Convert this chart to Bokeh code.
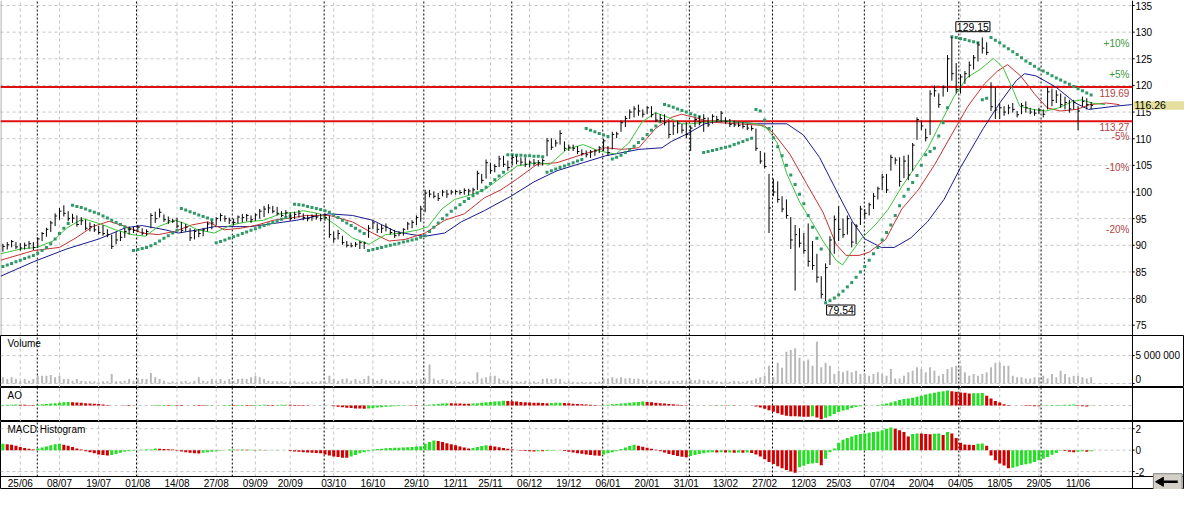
from bokeh.plotting import figure
from bokeh.layouts import column
from bokeh.models import Range1d, Label
from bokeh.embed import file_html
from bokeh.resources import INLINE
from bokeh.core.properties import value

# ---------------- data ----------------
high = [90.3, 90.6, 91.0, 90.6, 90.4, 90.5, 90.8, 90.6, 91.5, 92.5,
        93.3, 94.6, 96.0, 97.0, 97.5, 96.4, 95.9, 95.6, 95.3, 94.8,
        94.3, 94.0, 93.6, 93.8, 93.0, 92.0, 92.5, 92.6, 93.2, 93.5,
        93.5, 93.8, 93.2, 93.0, 96.0, 96.3, 96.9, 95.8, 95.4, 95.0,
        95.2, 94.4, 94.0, 93.2, 93.0, 93.0, 93.2, 94.4, 94.6, 95.3,
        96.0, 95.6, 95.2, 95.0, 95.6, 95.9, 95.9, 95.6, 96.0, 96.8,
        97.4, 97.7, 97.4, 97.2, 96.4, 96.6, 96.2, 96.3, 96.6, 96.0,
        95.7, 95.8, 96.0, 95.9, 96.0, 95.6, 92.6, 92.9, 91.8, 90.8,
        90.5, 90.6, 90.8, 90.7, 93.8, 94.7, 94.1, 93.8, 94.1, 93.2,
        92.9, 92.6, 93.2, 94.4, 94.7, 95.6, 97.4, 100.4, 100.4, 100.1,
        99.8, 100.4, 100.4, 100.4, 100.4, 100.4, 100.7, 100.6, 100.8, 104.0,
        103.4, 106.1, 105.5, 105.2, 106.8, 106.8, 105.9, 107.0, 106.8, 106.5,
        106.5, 105.9, 106.2, 106.0, 106.3, 110.1, 110.1, 109.8, 111.6, 109.5,
        108.9, 108.9, 108.6, 108.0, 107.8, 107.9, 108.0, 108.6, 110.0, 108.6,
        111.3, 111.3, 113.4, 114.3, 115.5, 116.1, 116.4, 115.5, 116.1, 116.1,
        114.9, 114.6, 114.6, 113.4, 113.1, 113.4, 112.8, 113.1, 112.5, 114.0,
        114.3, 114.6, 114.0, 114.6, 114.3, 115.2, 114.0, 113.7, 113.4, 113.1,
        113.1, 112.8, 112.5, 111.9, 107.7, 107.4, 103.4, 102.5, 102.0, 99.2,
        98.6, 95.3, 93.8, 93.2, 92.3, 94.1, 90.8, 88.4, 84.2, 86.6,
        91.7, 95.6, 97.4, 95.0, 95.6, 94.4, 94.0, 97.4, 96.8, 98.0,
        99.8, 101.0, 103.4, 103.4, 107.0, 106.5, 106.5, 106.8, 107.0, 109.2,
        114.0, 113.4, 111.9, 119.1, 120.0, 118.5, 120.0, 125.7, 129.15, 124.2,
        122.1, 122.7, 124.5, 125.7, 128.1, 129.0, 128.1, 120.6, 119.7, 116.7,
        116.1, 116.4, 116.7, 115.2, 116.7, 117.0, 115.8, 115.5, 115.8, 115.5,
        119.7, 119.4, 119.1, 118.5, 117.9, 117.3, 117.3, 116.1, 117.9, 117.6, 116.9]

low = [88.8, 89.2, 89.6, 89.3, 89.0, 89.2, 89.4, 89.1, 89.5, 90.8,
       91.6, 92.5, 93.6, 94.8, 95.4, 94.5, 94.2, 93.5, 93.8, 92.8,
       92.6, 92.5, 92.0, 91.8, 91.5, 89.3, 90.2, 90.8, 91.4, 92.0,
       92.3, 92.5, 91.9, 91.8, 93.2, 94.2, 95.2, 94.4, 94.0, 94.2,
       93.2, 92.3, 92.6, 90.8, 91.1, 91.5, 91.7, 92.6, 93.0, 93.8,
       94.5, 94.4, 94.0, 93.7, 94.1, 94.3, 94.5, 94.2, 94.6, 95.0,
       95.3, 96.0, 96.0, 95.6, 95.3, 95.4, 94.6, 94.9, 95.2, 94.7,
       94.5, 94.6, 94.8, 94.5, 94.6, 91.4, 90.5, 91.1, 90.1, 89.6,
       89.6, 89.7, 89.3, 89.3, 91.4, 93.0, 92.3, 92.3, 92.6, 92.0,
       91.4, 91.7, 91.8, 92.9, 93.2, 93.8, 94.4, 96.2, 99.0, 98.8,
       98.3, 99.2, 98.9, 99.5, 99.5, 99.5, 99.5, 99.4, 99.6, 100.4,
       101.6, 102.5, 103.4, 103.7, 104.7, 104.7, 104.0, 105.0, 105.2, 105.0,
       104.7, 104.6, 104.9, 104.8, 105.0, 106.7, 107.9, 108.5, 108.9, 107.7,
       107.7, 107.7, 107.1, 106.8, 106.5, 106.4, 106.8, 107.3, 107.7, 106.8,
       108.0, 110.1, 111.3, 112.2, 113.7, 114.0, 114.3, 114.0, 114.6, 114.0,
       113.1, 113.1, 112.5, 110.1, 110.7, 111.0, 111.0, 110.1, 107.7, 112.2,
       112.5, 111.3, 112.2, 112.8, 113.1, 113.1, 112.8, 112.2, 112.2, 112.2,
       111.9, 111.6, 111.5, 107.7, 105.3, 104.4, 92.3, 99.2, 98.0, 96.2,
       95.0, 89.3, 81.5, 89.6, 88.4, 86.0, 85.4, 83.0, 80.0, 79.54,
       86.3, 88.4, 90.8, 91.4, 92.0, 89.6, 90.2, 93.8, 95.0, 95.6,
       96.8, 98.6, 100.4, 99.8, 104.0, 105.2, 101.0, 102.6, 102.2, 104.0,
       109.8, 111.6, 109.5, 110.7, 117.9, 115.8, 117.9, 118.8, 120.9, 118.5,
       118.5, 120.3, 121.5, 123.0, 124.5, 126.0, 125.7, 115.2, 113.7, 113.7,
       114.3, 114.6, 114.9, 114.0, 114.6, 114.9, 114.6, 114.3, 114.6, 114.0,
       115.5, 116.1, 116.7, 115.8, 115.5, 114.9, 115.5, 111.6, 116.1, 115.5, 115.5]

close = [89.8, 90.1, 90.7, 89.7, 89.5, 90.0, 90.3, 89.6, 91.2, 92.2,
         93.0, 94.2, 95.5, 96.4, 96.0, 95.0, 95.1, 93.9, 94.6, 93.2,
         93.5, 92.9, 92.4, 92.2, 92.0, 89.8, 91.0, 91.5, 92.6, 93.0,
         92.8, 93.4, 92.3, 92.6, 95.6, 95.0, 96.2, 94.8, 94.6, 94.5,
         93.6, 92.8, 93.4, 91.4, 92.6, 92.2, 92.9, 94.0, 94.2, 95.0,
         95.6, 95.0, 94.7, 94.3, 95.3, 95.2, 95.6, 94.8, 95.7, 96.4,
         96.8, 97.0, 96.4, 96.0, 95.6, 96.1, 95.0, 95.8, 96.0, 95.2,
         95.0, 95.4, 95.3, 95.0, 95.2, 92.0, 91.2, 92.2, 90.5, 90.0,
         89.9, 90.2, 90.5, 90.4, 93.2, 94.2, 93.0, 93.2, 93.4, 92.4,
         91.8, 92.2, 93.0, 94.0, 94.3, 95.2, 96.8, 99.8, 99.6, 99.2,
         98.8, 100.0, 99.6, 100.0, 100.1, 99.9, 100.3, 100.2, 100.4, 103.5,
         102.2, 105.5, 104.0, 104.8, 106.2, 105.2, 104.6, 106.5, 105.8, 105.6,
         105.2, 105.6, 105.4, 105.5, 105.9, 109.6, 108.4, 109.2, 111.0, 108.2,
         108.4, 108.2, 107.6, 107.2, 107.0, 107.5, 107.7, 108.3, 109.6, 107.4,
         110.8, 110.9, 113.0, 113.8, 115.0, 115.6, 115.2, 114.6, 115.8, 114.5,
         113.5, 113.8, 113.0, 110.8, 112.4, 112.8, 111.6, 110.8, 112.0, 113.6,
         113.0, 113.8, 112.6, 114.2, 113.6, 114.8, 113.2, 112.7, 112.6, 112.5,
         112.3, 112.0, 111.9, 108.2, 105.8, 104.8, 97.0, 100.0, 98.6, 96.8,
         95.6, 91.0, 92.0, 90.4, 89.0, 87.0, 86.2, 84.0, 80.8, 85.8,
         91.0, 94.8, 93.0, 92.0, 95.0, 90.6, 93.6, 96.8, 96.0, 97.6,
         99.2, 100.6, 102.8, 100.4, 106.5, 106.0, 102.0, 105.8, 103.2, 108.8,
         113.6, 112.4, 110.2, 118.4, 119.0, 116.4, 119.6, 125.0, 122.2, 119.2,
         121.6, 122.2, 123.8, 125.2, 127.6, 127.0, 126.2, 116.0, 115.4, 115.8,
         115.0, 115.8, 115.5, 114.5, 116.2, 115.8, 115.0, 114.8, 115.4, 114.6,
         118.8, 117.2, 118.2, 116.4, 116.8, 115.6, 116.8, 115.2, 117.0, 116.4, 116.26]

sar = [86.0, 86.3, 86.6, 86.9, 87.2, 87.5, 87.8, 88.1, 88.5, 89.0,
       89.6, 90.3, 91.2, 92.2, 93.2, 94.1, 97.5, 97.3, 97.1, 96.8,
       96.5, 96.2, 95.9, 95.5, 95.1, 94.7, 94.3, 93.9, 93.5, 93.1,
       89.0, 89.2, 89.4, 89.6, 89.9, 90.3, 90.8, 91.3, 91.8, 92.3,
       92.8, 96.9, 96.6, 96.3, 96.0, 95.7, 95.4, 95.1, 94.8, 90.5,
       90.7, 91.0, 91.3, 91.6, 91.9, 92.2, 92.5, 92.8, 93.1, 93.4,
       93.7, 94.0, 94.3, 94.6, 94.9, 95.2, 95.5, 97.7, 97.6, 97.5,
       97.3, 97.1, 96.9, 96.7, 96.5, 96.2, 95.7, 95.2, 94.7, 94.2,
       93.7, 93.2, 92.7, 92.2, 89.0, 89.2, 89.4, 89.6, 89.8, 90.0,
       90.2, 90.4, 90.6, 90.8, 91.0, 91.2, 91.5, 91.8, 92.6, 93.4,
       94.2, 95.0, 95.7, 96.4, 97.0, 97.6, 98.2, 98.8, 99.3, 99.8,
       100.3, 100.9, 101.6, 102.3, 103.0, 103.7, 107.0, 107.0, 106.9, 106.9,
       106.8, 106.8, 106.7, 106.7, 106.6, 103.7, 104.0, 104.3, 104.6, 104.9,
       105.2, 105.5, 105.8, 106.1, 111.9, 111.6, 111.3, 111.0, 110.7, 110.4,
       106.2, 106.5, 106.9, 107.4, 108.0, 108.6, 109.3, 110.0, 110.8, 111.6,
       112.4, 113.2, 116.4, 116.2, 115.9, 115.6, 115.3, 115.0, 114.7, 114.4,
       114.1, 107.4, 107.6, 107.8, 108.0, 108.2, 108.4, 108.6, 108.9, 109.2,
       109.5, 109.8, 110.1, 115.5, 115.2, 113.5, 111.9, 110.2, 108.5, 106.8,
       105.0, 103.2, 101.4, 99.6, 97.8, 95.6, 93.4, 91.3, 89.3, 79.2,
       79.6, 80.1, 80.7, 81.4, 82.2, 83.0, 84.0, 85.0, 86.0, 87.2,
       88.4, 89.6, 91.0, 92.4, 93.8, 95.6, 97.4, 99.2, 100.5, 101.8,
       103.1, 105.0, 107.0, 107.6, 108.2, 110.5, 113.0, 115.8, 129.15, 129.0,
       128.8, 128.6, 128.4, 128.2, 128.0, 117.3, 117.6, 129.0, 128.5, 128.0,
       127.4, 126.9, 126.3, 125.8, 125.2, 124.6, 124.1, 123.6, 123.1, 122.7,
       122.3, 121.8, 121.4, 121.0, 120.6, 120.2, 119.8, 119.4, 119.0, 118.6, 118.2]

volume_m = [1.1, 0.8, 1.1, 0.8, 0.5, 0.8, 0.5, 0.8, 1.4, 1.4,
            1.4, 1.5, 1.1, 1.4, 0.8, 0.8, 0.5, 0.8, 0.5, 0.4,
            0.4, 0.4, 0.2, 0.4, 0.4, 1.7, 0.4, 0.4, 0.5, 0.8,
            0.5, 0.9, 0.8, 0.8, 1.9, 1.1, 0.8, 0.5, 0.2, 0.4,
            0.2, 0.4, 0.5, 0.2, 0.5, 1.1, 0.5, 0.4, 0.8, 0.5,
            0.8, 0.5, 0.8, 0.5, 0.8, 0.9, 0.8, 1.1, 1.4, 1.1,
            0.8, 0.5, 0.4, 0.4, 0.4, 0.2, 0.4, 0.5, 0.2, 0.2,
            0.3, 0.4, 0.3, 0.5, 0.4, 1.4, 0.8, 0.5, 0.8, 0.9,
            0.5, 0.8, 0.5, 0.8, 1.4, 0.8, 0.5, 0.8, 0.6, 0.5,
            0.6, 0.5, 0.3, 0.5, 0.6, 0.5, 0.8, 0.9, 3.4, 0.9,
            0.6, 0.8, 0.6, 0.5, 0.4, 0.3, 0.4, 0.3, 0.5, 2.0,
            0.9, 1.1, 1.4, 1.4, 0.9, 0.6, 0.5, 0.3, 0.4, 0.3,
            0.5, 0.3, 0.4, 0.3, 0.8, 0.9, 0.8, 0.9, 0.8, 0.3,
            0.4, 0.3, 0.2, 0.3, 0.2, 0.3, 0.2, 0.3, 0.8, 0.9,
            1.1, 0.9, 1.1, 0.9, 1.0, 0.8, 0.9, 0.7, 0.6, 0.5,
            0.6, 0.5, 0.4, 0.5, 0.4, 0.5, 0.6, 0.5, 0.7, 0.6,
            0.7, 0.6, 0.5, 0.6, 0.4, 0.3, 0.4, 0.3, 0.5, 0.4,
            0.3, 0.5, 0.6, 0.9, 1.1, 1.4, 3.2, 1.1, 3.7, 2.8,
            5.7, 6.0, 6.3, 4.6, 4.0, 4.3, 3.2, 7.5, 2.9, 3.7,
            3.2, 1.7, 2.3, 2.0, 2.3, 2.0, 2.3, 1.7, 1.7, 1.4,
            1.7, 2.0, 1.7, 1.4, 2.6, 0.9, 0.9, 1.4, 2.0, 2.3,
            2.9, 2.6, 2.0, 2.9, 2.3, 1.4, 1.7, 2.6, 2.9, 3.2,
            3.2, 2.0, 1.4, 1.7, 1.4, 1.7, 2.0, 2.9, 3.7, 3.7,
            3.2, 3.2, 1.4, 1.1, 1.1, 0.9, 0.9, 1.1, 1.1, 1.4,
            0.9, 1.7, 1.1, 2.3, 1.7, 1.1, 1.4, 1.4, 1.1, 0.9, 1.1]

ao = [0.6, 0.7, 0.8, 0.9, 0.8, 0.7, 0.6, 0.5, 0.8, 1.2,
      1.6, 2.0, 2.4, 2.8, 3.2, 3.5, 3.3, 3.0, 2.7, 2.4,
      2.1, 1.8, 1.4, 1.0, 0.6, 0, 0, 0, -0.4, -0.5,
      -0.4, 0, 0, 0, 0, 0.4, 0.5, 0.6, 0.5, 0.6,
      0.5, 0.4, 0, 0, -0.4, -0.5, -0.6, -0.5, -0.4, 0,
      0, 0.4, 0.5, 0.4, 0.5, 0.6, 0.5, 0.4, 0.5, 0.6,
      0.7, 0.6, 0.5, 0.6, 0.7, 0.8, 0.7, 0.6, 0.5, 0.4,
      0.3, 0, 0, 0, 0, 0, -0.8, -1.3, -1.8, -2.3,
      -2.7, -3.0, -3.2, -3.4, -3.0, -2.6, -2.2, -1.8, -1.4, -1.0,
      -0.7, -0.5, -0.4, -0.3, -0.4, -0.5, 0, 0.4, 0.8, 1.2,
      1.6, 2.0, 2.3, 2.2, 2.1, 2.0, 1.9, 1.8, 2.0, 2.4,
      2.8, 3.2, 3.6, 4.0, 4.4, 4.8, 4.6, 4.3, 4.0, 3.7,
      3.4, 3.1, 2.9, 2.7, 2.5, 2.3, 2.5, 2.7, 2.8, 2.5,
      2.2, 1.9, 1.6, 1.3, 1.0, 0.7, 0.4, 0.2, 0.4, 0.8,
      1.2, 1.6, 2.0, 2.4, 2.8, 3.2, 3.6, 4.0, 3.6, 3.2,
      2.8, 2.4, 2.0, 1.6, 1.2, 0.8, 0.5, 0.3, 0, 0,
      0, 0, 0, 0.3, -0.3, 0.3, -0.3, 0.3, -0.3, 0,
      0, 0, 0, -1.0, -2.0, -3.5, -5.0, -6.5, -8.0, -9.5,
      -10.5, -11.0, -11.2, -11.4, -11.5, -11.6, -11.0, -12.5, -14.3, -12.7,
      -11.0, -8.7, -6.7, -5.3, -4.3, -2.7, -1.7, -0.7, -0.3, 0,
      0, 0.6, 1.3, 2.0, 3.0, 4.3, 5.7, 6.7, 7.3, 8.0,
      9.0, 10.0, 11.3, 12.3, 13.0, 14.0, 14.6, 15.3, 14.7, 14.0,
      13.3, 13.0, 12.3, 12.5, 12.6, 12.8, 10.0, 7.3, 4.7, 3.0,
      1.3, 0.4, 0, 0, 0, -0.5, -0.6, -0.7, -0.8, 0.2,
      0.3, 0.4, 0.5, 0.6, 0.7, 0.8, 0.9, -0.6, -0.8, -1.0, 0.3]

macd = [0.6, 0.55, 0.5, 0.4, 0.3, 0.2, 0.12, 0.06, 0.15, 0.25,
        0.35, 0.45, 0.55, 0.6, 0.5, 0.4, 0.3, 0.15, 0.05, -0.1,
        -0.2, -0.3, -0.4, -0.45, -0.5, -0.45, -0.35, -0.25, -0.15, -0.1,
        -0.05, 0.0, 0.03, 0.05, 0.07, 0.15, 0.13, 0.11, 0.08, 0.05,
        -0.05, -0.12, -0.2, -0.25, -0.3, -0.32, -0.25, -0.2, -0.15, -0.1,
        -0.05, 0.0, 0.05, 0.06, 0.04, 0.05, 0.03, 0.04, 0.02, 0.03,
        0.01, 0.02, 0.0, 0.01, -0.01, 0.0, -0.08, -0.12, -0.15, -0.2,
        -0.22, -0.25, -0.27, -0.3, -0.4, -0.5, -0.6, -0.65, -0.7, -0.72,
        -0.6, -0.45, -0.3, -0.2, -0.1, 0.05, 0.1, 0.14, 0.18, 0.2,
        0.22, 0.23, 0.25, 0.27, 0.3, 0.33, 0.36, 0.6, 0.75, 0.9,
        0.85, 0.75, 0.65, 0.55, 0.45, 0.35, 0.25, 0.15, 0.2, 0.3,
        0.38, 0.45, 0.42, 0.35, 0.28, 0.2, 0.12, 0.05, 0.0, -0.05,
        -0.08, -0.1, -0.12, -0.1, -0.11, -0.08, -0.05, -0.03, -0.02, -0.08,
        -0.15, -0.22, -0.28, -0.33, -0.4, -0.45, -0.5, -0.52, -0.4, -0.3,
        -0.2, -0.1, 0.1, 0.25, 0.38, 0.5, 0.42, 0.32, 0.22, 0.12,
        0.03, -0.1, -0.22, -0.35, -0.45, -0.55, -0.62, -0.67, -0.55, -0.45,
        -0.35, -0.28, -0.22, -0.2, -0.22, -0.2, -0.23, -0.21, -0.24, -0.22,
        -0.25, -0.23, -0.26, -0.4, -0.6, -0.85, -1.1, -1.3, -1.5, -1.7,
        -1.85, -2.0, -2.1, -1.6, -1.45, -1.3, -1.25, -1.2, -1.4, -0.8,
        -0.2, 0.15, 0.68, 0.97, 1.12, 1.26, 1.41, 1.5, 1.56, 1.62,
        1.68, 1.74, 1.85, 2.0, 2.1, 2.0, 1.85, 1.7, 1.26, 1.5,
        1.56, 1.55, 1.5, 1.47, 1.52, 1.56, 1.41, 1.7, 1.56, 1.12,
        0.68, 0.53, 0.5, 0.48, 0.6, 0.62, 0.4, -0.5, -0.94, -1.24,
        -1.44, -1.68, -1.65, -1.53, -1.38, -1.32, -1.24, -1.1, -0.94, -0.8,
        -0.65, -0.44, -0.26, -0.05, -0.08, -0.15, -0.2, -0.15, -0.1, -0.15, -0.1]

# Alligator lines (bar index, price)
blue_x = [-0.5, 7.0, 14.6, 22.1, 28.2, 32.0, 37.3, 40.3, 44.8, 48.6, 56.9, 62.2, 67.5, 72.8, 75.0,
          80.3, 84.9, 90.2, 94.0, 97.0, 101.5, 105.3, 110.6, 116.7, 122.0, 127.3, 133.3, 138.5,
          146.1, 151.4, 153.6, 157.4, 161.2, 165.0, 168.7, 173.3, 180.1, 183.9, 187.6, 191.4,
          195.2, 198.0, 201.8, 204.8, 208.6, 212.4, 216.2, 220.0, 225.2, 229.0, 232.8, 234.7,
          237.3, 241.9, 246.4, 249.4, 252.5, 255.5, 259.3]
blue_y = [84.2, 86.9, 89.3, 91.2, 93.3, 93.7, 92.9, 92.3, 92.9, 93.5, 93.5, 94.1, 94.7, 95.6, 95.9,
          95.6, 94.7, 92.6, 92.0, 91.7, 92.3, 94.4, 96.5, 99.2, 101.9, 104.0, 105.5, 106.8,
          108.0, 108.3, 109.5, 111.0, 112.8, 113.4, 113.1, 112.8, 112.8, 110.7, 106.5, 100.4,
          94.4, 91.2, 89.6, 89.6, 91.4, 94.4, 98.6, 104.6, 111.9, 116.7, 120.9, 122.2,
          121.8, 119.7, 116.7, 115.5, 115.8, 116.1, 116.4]
red_x = [-0.5, 7.0, 13.0, 16.8, 20.6, 24.4, 28.2, 32.0, 35.7, 39.5, 43.3, 47.1, 50.9, 54.6, 58.4,
         62.2, 67.5, 69.7, 75.0, 80.3, 84.9, 88.7, 92.4, 97.0, 101.5, 106.0, 110.6, 114.4, 118.2,
         122.7, 127.3, 133.3, 138.5, 142.3, 146.1, 149.9, 153.6, 155.9, 158.9, 162.7, 168.7,
         174.8, 177.1, 180.8, 184.6, 188.4, 191.4, 193.7, 196.7, 199.0, 202.8, 206.5, 210.3,
         214.1, 217.9, 221.7, 225.5, 228.5, 230.8, 233.8, 236.9, 239.9, 242.9, 246.7, 249.7,
         253.5, 256.5]
red_y = [87.2, 89.0, 89.6, 91.4, 93.5, 94.5, 93.5, 92.3, 92.0, 92.6, 93.8, 94.4, 92.9, 93.2, 93.8,
         94.7, 95.3, 95.6, 95.6, 94.4, 92.3, 90.8, 91.1, 92.3, 94.7, 95.9, 98.9, 100.4, 102.5,
         105.2, 105.5, 107.1, 108.3, 108.0, 108.3, 111.9, 114.0, 114.6, 114.0, 113.1, 112.8,
         112.5, 111.0, 107.1, 101.6, 96.2, 90.2, 88.1, 88.1, 88.7, 91.1, 96.8, 100.4,
         105.2, 110.7, 116.1, 120.3, 122.7, 123.9, 121.8, 118.5, 115.8, 115.2, 115.5, 116.4,
         116.7, 116.4]
green_x = [-0.5, 4.0, 7.8, 11.5, 14.6, 18.4, 22.1, 25.9, 29.7, 32.7, 35.7, 39.5, 41.8, 44.8, 48.6,
           52.4, 56.1, 59.9, 63.7, 67.5, 69.0, 72.8, 76.5, 80.3, 84.1, 87.9, 91.7, 95.5, 97.7,
           100.8, 103.8, 107.6, 110.6, 113.6, 118.2, 122.7, 125.7, 129.5, 133.3, 137.0, 140.8,
           143.8, 146.8, 149.9, 152.9, 155.9, 158.2, 161.2, 165.0, 168.7, 173.3, 175.6, 177.9,
           180.1, 183.1, 185.4, 188.4, 191.4, 192.9, 194.4, 197.4, 200.4, 203.4, 206.5, 209.5,
           212.5, 215.5, 218.5, 221.5, 224.5, 227.6, 229.8, 232.1, 233.6, 236.6, 239.6, 242.6,
           245.7, 247.9, 250.2, 253.2]
green_y = [88.4, 89.3, 89.6, 90.8, 93.2, 95.0, 94.1, 92.9, 92.0, 91.7, 93.5, 94.7, 94.1, 92.9, 92.3,
           93.8, 94.4, 94.7, 95.9, 96.2, 96.5, 95.9, 93.8, 91.4, 90.2, 92.0, 92.3, 92.9, 93.5,
           96.8, 98.6, 99.5, 100.4, 102.2, 104.9, 105.5, 105.2, 108.0, 108.9, 107.7, 107.1,
           109.2, 113.1, 114.9, 114.0, 112.8, 112.8, 113.1, 113.4, 113.1, 112.8, 111.9, 109.2,
           103.4, 98.0, 95.0, 90.8, 87.2, 86.3, 88.1, 91.4, 93.8, 96.8, 101.0, 104.6,
           108.2, 113.1, 117.9, 121.5, 123.0, 125.1, 123.3, 119.1, 116.1, 115.5, 115.2, 115.8,
           117.0, 117.3, 116.7, 116.4]

date_idx = [4, 13, 22, 31, 40, 49, 58, 66, 76, 85, 95, 104, 112, 121, 130, 139, 148, 157,
            166, 175, 184, 192, 202, 211, 220, 229, 238, 247]
date_lbl = ["25/06", "08/07", "19/07", "01/08", "14/08", "27/08", "09/09", "20/09", "03/10",
            "16/10", "29/10", "12/11", "25/11", "06/12", "19/12", "06/01", "20/01", "31/01",
            "13/02", "27/02", "12/03", "25/03", "07/04", "20/04", "04/05", "18/05", "29/05", "11/06"]
month_idx = [7.9, 30.7, 52.7, 73.8, 96.7, 116.9, 137.8, 157.7, 176.8, 197.9, 219.6, 238.5]

price_ticks = list(range(75, 136, 5))
vol_ticks = [0, 5]
vol_tick_lbl = ["0", "5 000 000"]
macd_ticks = [-2, 0, 2]

resistance = 119.69
support = 113.27
last_close = 116.26
peak_val, peak_idx = 129.15, 218
trough_val, trough_idx = 79.54, 189
pct_levels = [127.89, 122.07, 110.45, 104.63, 93.01]
pct_text = ["+10%", "+5%", "-5%", "-10%", "-20%"]

# ---------------- styling / layout ----------------
FONT = "Liberation Sans"
FW = 1184                 # frame covers whole width; price scale drawn by hand
X0, XAX, X1 = -0.55, 259.5, 271.45   # left edge, scale line, right edge (bar-index units)
GRID = "#c4c4c4"
UP, DOWN = "#22e022", "#d00000"
idx = list(range(len(close)))
xr = Range1d(X0, X1)


def panel(fh, y0, y1, ya, yb, outline="black"):
    """ya..yb is the plotting band inside the frame (y0..y1)."""
    p = figure(frame_width=FW, frame_height=fh, x_range=xr, y_range=Range1d(y0, y1),
               output_backend="svg", toolbar_location=None,
               x_axis_location=None, y_axis_location=None,
               min_border_left=0, min_border_right=0, min_border_top=0, min_border_bottom=0)
    p.outline_line_color = outline
    p.outline_line_width = 1
    p.background_fill_color = "white"
    p.border_fill_color = "white"
    p.grid.visible = False
    # vertical grid at date labels
    p.segment(x0=date_idx, x1=date_idx, y0=ya, y1=yb, line_color=GRID, line_dash="3 3")
    # month separators
    p.segment(x0=month_idx, x1=month_idx, y0=ya, y1=yb, line_color="black", line_dash="2 2")
    # price scale line
    p.segment(x0=[XAX], x1=[XAX], y0=[y0], y1=[y1], line_color="black", line_width=1)
    return p


def scale(p, ticks, labels, baseline="middle"):
    p.segment(x0=X0, x1=XAX, y0=ticks, y1=ticks, line_color=GRID, line_dash="3 3")
    p.segment(x0=XAX, x1=XAX + 0.5, y0=ticks, y1=ticks, line_color="black")
    p.text(x=[XAX] * len(ticks), y=ticks, text=labels, x_offset=3,
           text_baseline=baseline, text_align="left", text_font=value(FONT),
           text_font_size="10px", text_color="black")


def title(p, text, ytop):
    p.add_layout(Label(x=X0, y=ytop, text=text, x_offset=7, y_offset=-2,
                       text_baseline="top", text_align="left", text_font=FONT,
                       text_font_size="10px", text_color="black"))


def diff_colors(vals):
    out = []
    for k, v in enumerate(vals):
        prev = vals[k - 1] if k > 0 else v
        out.append(UP if v >= prev else DOWN)
    return out


# ---------------- main price panel ----------------
p1 = panel(335, 73.07, 135.94, 73.07, 135.94, outline=None)
scale(p1, price_ticks, [str(t) for t in price_ticks])
p1.segment(x0=[X0 + 0.1], x1=[X0 + 0.1], y0=[73.07], y1=[135.94], line_color="#909090")
p1.segment(x0=X0, x1=XAX, y0=[resistance, support], y1=[resistance, support],
           line_color="#e01010", line_width=2)
p1.line(blue_x, blue_y, line_color="#1a1a90", line_width=1)
p1.line(red_x, red_y, line_color="#c83030", line_width=1)
p1.line(green_x, green_y, line_color="#3cc43c", line_width=1)
p1.scatter(idx, sar, marker="square", size=3, fill_color="#2f9a68", line_color=None)
p1.segment(x0=idx, y0=low, x1=idx, y1=high, line_color="black", line_width=1)
p1.segment(x0=idx, y0=close, x1=[i + 0.45 for i in idx], y1=close, line_color="black", line_width=1)

for lv, tx in zip(pct_levels, pct_text):
    col = "#3c963c" if tx.startswith("+") else "#b04444"
    p1.add_layout(Label(x=XAX - 0.7, y=lv, text=tx, text_align="right", text_baseline="middle",
                        text_font=FONT, text_font_size="10px", text_color=col))
for lv in (resistance, support):
    p1.add_layout(Label(x=XAX - 0.7, y=lv, text=f"{lv:.2f}", text_align="right",
                        text_baseline="top", y_offset=-2, text_font=FONT,
                        text_font_size="10px", text_color="#b04444"))
# current price box on the scale
p1.quad(left=[XAX + 0.2], right=[X1], bottom=[last_close - 0.8], top=[last_close + 0.78],
        fill_color="#e4df9c", line_color=None)
p1.text(x=[XAX], y=[last_close], text=[f"{last_close:.2f}"], x_offset=2, text_baseline="middle",
        text_align="left", text_font=value(FONT), text_font_size="10.5px", text_color="black")
p1.add_layout(Label(x=peak_idx, y=peak_val, text=f"{peak_val:.2f}", x_offset=4, y_offset=5,
                    text_align="left", text_baseline="bottom", text_font=FONT,
                    text_font_size="10.5px", text_color="black", background_fill_color="white",
                    border_line_color="black", padding=1))
p1.add_layout(Label(x=trough_idx, y=trough_val, text=f"{trough_val:.2f}", x_offset=1, y_offset=-4,
                    text_align="left", text_baseline="top", text_font=FONT,
                    text_font_size="10.5px", text_color="black", background_fill_color="white",
                    border_line_color="black", padding=1))

# ---------------- volume ----------------
p2 = panel(52, -0.72, 8.6, -0.72, 8.6)
scale(p2, vol_ticks[1:], vol_tick_lbl[1:])
scale(p2, vol_ticks[:1], vol_tick_lbl[:1], baseline="bottom")
p2.vbar(x=idx, top=volume_m, bottom=0, width=0.45, fill_color="#b8b8b8", line_color=None)
title(p2, "Volume", 8.6)

# ---------------- AO ----------------
p3 = panel(34, -16.5, 18.5, -16.5, 18.5)
p3.segment(x0=[X0], x1=[XAX], y0=[0], y1=[0], line_color=GRID, line_dash="3 3")
p3.vbar(x=idx, top=ao, bottom=0, width=0.7, fill_color=diff_colors(ao), line_color=None)
title(p3, "AO", 18.5)

# ---------------- MACD histogram + date row ----------------
M_BOT = -2.46
p4 = panel(68, -3.67, 2.67, M_BOT, 2.67)
scale(p4, macd_ticks, [str(t) for t in macd_ticks])
p4.vbar(x=idx, top=macd, bottom=0, width=0.7, fill_color=diff_colors(macd), line_color=None)
p4.segment(x0=[X0], x1=[X1], y0=[M_BOT], y1=[M_BOT], line_color="black", line_width=1)
p4.text(x=date_idx, y=[M_BOT - 0.12] * len(date_idx), text=date_lbl, text_align="center",
        text_baseline="top", text_font=value(FONT), text_font_size="10px", text_color="black")
title(p4, "MACD Histogram", 2.67)
# scroll button at the bottom right
p4.quad(left=[264.3], right=[270.9], bottom=[-3.67], top=[-2.2],
        fill_color="#d4d0c8", line_color="#808080")
p4.scatter(x=[266.0], y=[-2.95], marker="triangle", size=9, angle=1.5708,
           fill_color="black", line_color="black")
p4.quad(left=[266.6], right=[269.9], bottom=[-3.07], top=[-2.83], fill_color="black",
        line_color=None)

layout = column(p1, p2, p3, p4, spacing=0)
open("out.html", "w").write(file_html(layout, INLINE))
